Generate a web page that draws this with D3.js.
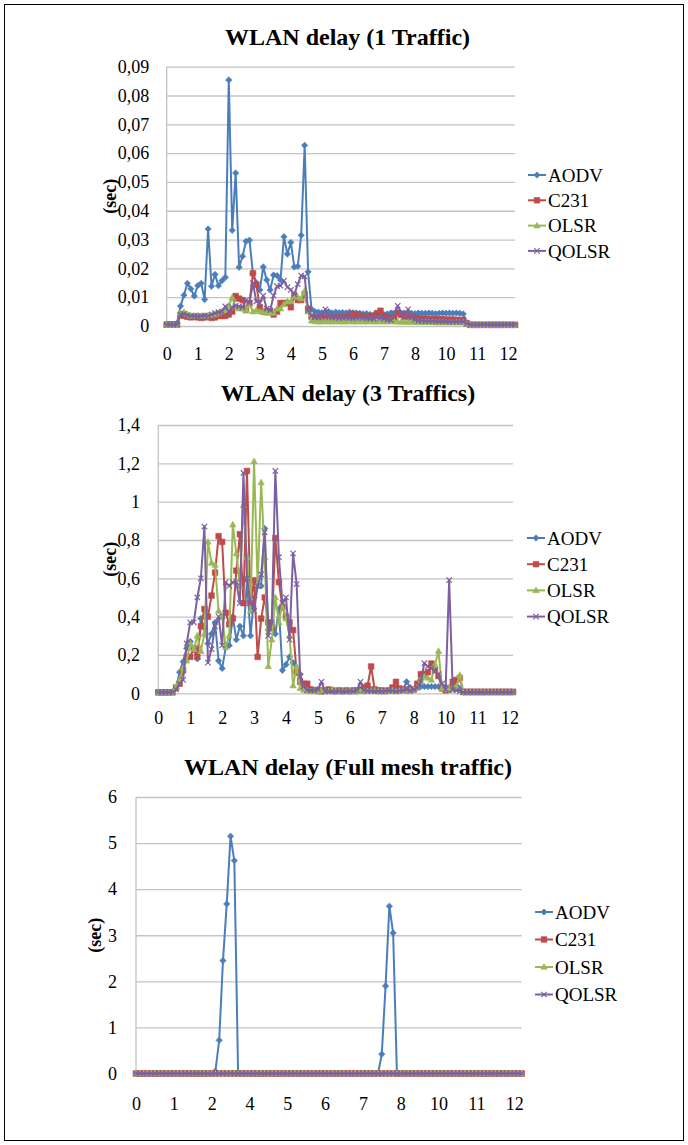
<!DOCTYPE html>
<html><head><meta charset="utf-8">
<script src="https://cdn.jsdelivr.net/npm/d3@7"></script>
<style>body{margin:0;background:#fff} svg{display:block}</style>
</head><body>
<svg id="c" width="688" height="1145"></svg>
<script>
const seriesNames = ["AODV","C231","OLSR","QOLSR"];

const xTickLabels1 = ["0","1","2","3","4","5","6","7","8","10","11","12"];
const xTickLabels2 = ["0","1","2","3","4","5","6","7","8","10","11","12"];
const xTickLabels3 = ["0","1","2","4","5","6","7","8","10","11","12"];

const yTicks1 = [0,0.01,0.02,0.03,0.04,0.05,0.06,0.07,0.08,0.09];
const yLabels1 = ["0","0,01","0,02","0,03","0,04","0,05","0,06","0,07","0,08","0,09"];
const yTicks2 = [0,0.2,0.4,0.6,0.8,1,1.2,1.4];
const yLabels2 = ["0","0,2","0,4","0,6","0,8","1","1,2","1,4"];
const yTicks3 = [0,1,2,3,4,5,6];
const yLabels3 = ["0","1","2","3","4","5","6"];

// ---- WLAN delay (1 Traffic) ----
const aodv1 = [0.0005,0.0005,0.0005,0.001,0.0069,0.0107,0.0148,0.0129,0.0104,0.014,
0.0148,0.0092,0.0337,0.0138,0.0179,0.014,0.0157,0.0169,0.0854,0.0332,
0.0531,0.0204,0.0242,0.0294,0.0298,0.0183,0.015,0.0125,0.0205,0.016,
0.0125,0.0177,0.0175,0.016,0.031,0.025,0.029,0.0205,0.0207,0.0315,
0.0627,0.0188,0.0058,0.005,0.0048,0.0046,0.0048,0.005,0.0045,0.0048,
0.0046,0.0047,0.0045,0.0048,0.0046,0.0045,0.0044,0.0042,0.0043,0.004,
0.0038,0.0037,0.0038,0.004,0.0042,0.0045,0.0044,0.0046,0.0045,0.0044,
0.0045,0.0044,0.0043,0.0045,0.0044,0.0044,0.0045,0.0044,0.0043,0.0044,
0.0045,0.0044,0.0045,0.0044,0.0045,0.0044,0.0042,0.001,0.0004,0.0004,
0.0004,0.0004,0.0004,0.0004,0.0004,0.0004,0.0004,0.0004,0.0004,0.0004,
0.0004,0.0004];
const c2311 = [0.0005,0.0005,0.0005,0.0005,0.0038,0.0035,0.0032,0.003,0.0032,0.003,
0.0028,0.003,0.0032,0.0028,0.003,0.0035,0.0035,0.0035,0.004,0.005,
0.0104,0.0095,0.009,0.0055,0.008,0.0183,0.0143,0.0065,0.005,0.005,
0.005,0.004,0.005,0.008,0.008,0.008,0.0065,0.0105,0.009,0.009,
0.011,0.006,0.0032,0.003,0.0028,0.003,0.0028,0.003,0.0029,0.003,
0.0028,0.003,0.003,0.0035,0.0042,0.004,0.0035,0.0032,0.003,0.0032,
0.0035,0.0045,0.0053,0.0035,0.0028,0.0026,0.003,0.0045,0.0038,0.0032,
0.0035,0.003,0.0028,0.0026,0.0025,0.0025,0.0024,0.0024,0.0024,0.0023,
0.0023,0.0022,0.0022,0.0022,0.0021,0.0021,0.002,0.001,0.0004,0.0004,
0.0004,0.0004,0.0004,0.0004,0.0004,0.0004,0.0004,0.0004,0.0004,0.0004,
0.0004,0.0004];
const olsr1 = [0.0003,0.0003,0.0003,0.0003,0.0045,0.0048,0.004,0.0035,0.0035,0.0036,
0.0034,0.0035,0.0036,0.0038,0.004,0.0045,0.005,0.0055,0.007,0.0098,
0.0065,0.006,0.006,0.0055,0.0075,0.005,0.0055,0.005,0.005,0.0045,
0.0045,0.0045,0.006,0.006,0.0075,0.0085,0.0085,0.0105,0.01,0.0095,
0.0122,0.005,0.0018,0.0016,0.0015,0.0015,0.0016,0.0015,0.0015,0.0016,
0.0015,0.0015,0.0015,0.0016,0.0015,0.0015,0.0016,0.0015,0.0015,0.0016,
0.0015,0.0015,0.0016,0.0015,0.0015,0.0016,0.0015,0.0015,0.0014,0.0014,
0.0014,0.0014,0.0013,0.0013,0.0013,0.0013,0.0013,0.0013,0.0012,0.0012,
0.0012,0.0012,0.0012,0.0012,0.0012,0.0012,0.0012,0.0006,0.0003,0.0003,
0.0003,0.0003,0.0003,0.0003,0.0003,0.0003,0.0003,0.0003,0.0003,0.0003,
0.0003,0.0003];
const qolsr1 = [0.0005,0.0005,0.0005,0.0005,0.004,0.0042,0.0038,0.0035,0.0035,0.0034,
0.0035,0.0036,0.0035,0.004,0.0045,0.0048,0.005,0.0068,0.005,0.0065,
0.007,0.0068,0.0065,0.009,0.008,0.0148,0.0085,0.008,0.0105,0.006,
0.0055,0.0105,0.0138,0.014,0.0157,0.0135,0.0125,0.011,0.0145,0.0175,
0.0172,0.0055,0.0035,0.003,0.003,0.0035,0.0058,0.0035,0.003,0.003,
0.0028,0.0029,0.003,0.0028,0.0027,0.0028,0.003,0.0028,0.0027,0.0026,
0.0025,0.003,0.0028,0.0025,0.0022,0.002,0.0045,0.007,0.0045,0.003,
0.0058,0.003,0.0022,0.0018,0.0018,0.0017,0.0017,0.0017,0.0016,0.0016,
0.0016,0.0015,0.0015,0.0015,0.0015,0.0015,0.0015,0.0008,0.0005,0.0005,
0.0005,0.0005,0.0005,0.0005,0.0005,0.0005,0.0005,0.0005,0.0005,0.0005,
0.0005,0.0005];

// ---- WLAN delay (3 Traffics) ----
const aodv2 = [0.005,0.005,0.005,0.005,0.008,0.026,0.11,0.165,0.235,0.27,
0.23,0.18,0.39,0.34,0.26,0.31,0.37,0.17,0.13,0.24,
0.25,0.4,0.28,0.35,0.3,0.59,0.3,0.5,0.56,0.56,
0.86,0.33,0.37,0.31,0.44,0.12,0.15,0.19,0.16,0.11,
0.1,0.035,0.02,0.018,0.015,0.02,0.015,0.012,0.015,0.012,
0.01,0.012,0.01,0.012,0.01,0.012,0.01,0.015,0.012,0.015,
0.02,0.015,0.012,0.01,0.012,0.015,0.02,0.03,0.015,0.02,
0.06,0.03,0.02,0.03,0.035,0.035,0.035,0.035,0.035,0.035,
0.035,0.035,0.03,0.035,0.04,0.025,0.005,0.005,0.005,0.005,
0.005,0.005,0.005,0.005,0.005,0.005,0.005,0.005,0.005,0.005,
0.005];
const c2312 = [0.005,0.005,0.005,0.005,0.005,0.03,0.05,0.12,0.19,0.19,
0.235,0.19,0.35,0.44,0.4,0.51,0.63,0.82,0.79,0.42,
0.36,0.39,0.64,0.83,0.47,1.16,0.47,0.59,0.19,0.39,
0.5,0.37,0.34,0.81,0.58,0.45,0.4,0.37,0.33,0.11,
0.06,0.05,0.05,0.02,0.015,0.012,0.01,0.015,0.02,0.015,
0.012,0.015,0.012,0.015,0.012,0.015,0.015,0.02,0.03,0.04,
0.14,0.02,0.015,0.015,0.012,0.015,0.03,0.06,0.025,0.02,
0.02,0.015,0.02,0.05,0.1,0.1,0.11,0.155,0.12,0.09,
0.025,0.015,0.02,0.06,0.07,0.08,0.008,0.008,0.008,0.008,
0.008,0.008,0.008,0.008,0.008,0.008,0.008,0.008,0.008,0.008,
0.008];
const olsr2 = [0.003,0.003,0.003,0.003,0.003,0.035,0.07,0.13,0.17,0.26,
0.23,0.3,0.22,0.31,0.79,0.68,0.67,0.43,0.4,0.24,
0.3,0.88,0.73,0.56,0.98,0.71,0.43,1.21,0.57,1.1,
0.71,0.14,0.28,0.5,0.37,0.47,0.39,0.3,0.04,0.14,
0.026,0.017,0.012,0.01,0.012,0.01,0.015,0.012,0.01,0.02,
0.012,0.01,0.012,0.01,0.012,0.01,0.012,0.01,0.012,0.01,
0.012,0.015,0.01,0.012,0.01,0.012,0.015,0.01,0.012,0.015,
0.012,0.015,0.02,0.03,0.07,0.087,0.08,0.07,0.15,0.22,
0.026,0.02,0.026,0.03,0.035,0.095,0.005,0.005,0.005,0.005,
0.005,0.005,0.005,0.005,0.005,0.005,0.005,0.005,0.005,0.005,
0.005];
const qolsr2 = [0.005,0.005,0.005,0.005,0.005,0.02,0.05,0.07,0.26,0.37,
0.37,0.5,0.6,0.87,0.16,0.23,0.35,0.4,0.25,0.58,
0.56,0.58,0.58,0.47,1.15,0.6,0.47,0.43,0.56,0.62,
0.84,0.3,0.37,1.16,0.71,0.47,0.5,0.28,0.73,0.57,
0.087,0.035,0.017,0.015,0.015,0.02,0.06,0.01,0.01,0.01,
0.01,0.012,0.01,0.01,0.012,0.01,0.015,0.06,0.015,0.012,
0.012,0.01,0.012,0.01,0.012,0.015,0.012,0.01,0.012,0.015,
0.02,0.015,0.02,0.03,0.06,0.157,0.14,0.13,0.12,0.1,
0.05,0.02,0.59,0.017,0.015,0.01,0.005,0.005,0.005,0.005,
0.005,0.005,0.005,0.005,0.005,0.005,0.005,0.005,0.005,0.005,
0.005];

// ---- WLAN delay (Full mesh traffic) ----
const aodv3 = [0,0,0,0,0,0,0,0,0,0,
0,0,0,0,0,0,0,0,0,0,
0,0.05,0.72,2.45,3.68,5.15,4.62,0,0,0,
0,0,0,0,0,0,0,0,0,0,
0,0,0,0,0,0,0,0,0,0,
0,0,0,0,0,0,0,0,0,0,
0,0,0,0,0,0.42,1.9,3.63,3.05,0,
0,0,0,0,0,0,0,0,0,0,
0,0,0,0,0,0,0,0,0,0,
0,0,0,0,0,0,0,0,0,0,
0,0,0];
const c2313 = [0,0,0,0,0,0,0,0,0,0,
0,0,0,0,0,0,0,0,0,0,
0,0,0,0,0,0,0,0,0,0,
0,0,0,0,0,0,0,0,0,0,
0,0,0,0,0,0,0,0,0,0,
0,0,0,0,0,0,0,0,0,0,
0,0,0,0,0,0,0,0,0,0,
0,0,0,0,0,0,0,0,0,0,
0,0,0,0,0,0,0,0,0,0,
0,0,0,0,0,0,0,0,0,0,
0,0,0];
const olsr3 = [0,0,0,0,0,0,0,0,0,0,
0,0,0,0,0,0,0,0,0,0,
0,0,0,0,0,0,0,0,0,0,
0,0,0,0,0,0,0,0,0,0,
0,0,0,0,0,0,0,0,0,0,
0,0,0,0,0,0,0,0,0,0,
0,0,0,0,0,0,0,0,0,0,
0,0,0,0,0,0,0,0,0,0,
0,0,0,0,0,0,0,0,0,0,
0,0,0,0,0,0,0,0,0,0,
0,0,0];
const qolsr3 = [0,0,0,0,0,0,0,0,0,0,
0,0,0,0,0,0,0,0,0,0,
0,0,0,0,0,0,0,0,0,0,
0,0,0,0,0,0,0,0,0,0,
0,0,0,0,0,0,0,0,0,0,
0,0,0,0,0,0,0,0,0,0,
0,0,0,0,0,0,0,0,0,0,
0,0,0,0,0,0,0,0,0,0,
0,0,0,0,0,0,0,0,0,0,
0,0,0,0,0,0,0,0,0,0,
0,0,0];

const colors = ["#4a7ebb","#be4b48","#98b954","#7d60a0"];
const markers = ["diamond","square","triangle","cross"];
const markerPath = {
  diamond: "M0,-3.2L3.2,0L0,3.2L-3.2,0Z",
  square: "M-2.8,-2.8H2.8V2.8H-2.8Z",
  triangle: "M0,-3.4L3.2,2.3H-3.2Z",
  cross: "M-2.7,-2.7L2.7,2.7M2.7,-2.7L-2.7,2.7"
};
const serif = "'Liberation Serif','Times New Roman',serif";

const svg = d3.select("#c");
svg.append("rect").attr("x",4.5).attr("y",4.5).attr("width",679).attr("height",1136)
  .attr("fill","none").attr("stroke","#000").attr("stroke-width",1);

function drawMarker(sel, type, color) {
  if (type === "cross") {
    sel.attr("d", markerPath.cross).attr("fill","none").attr("stroke",color).attr("stroke-width",1.2);
  } else {
    sel.attr("d", markerPath[type]).attr("fill",color).attr("stroke",color).attr("stroke-width",0.6);
  }
}

function drawChart(cfg) {
  const g = svg.append("g");
  const n = cfg.series[0].length;
  const x = d3.scaleLinear().domain([0, n - 1]).range([cfg.left, cfg.right]);
  const y = d3.scaleLinear().domain([0, cfg.yMax]).range([cfg.bottom, cfg.top]);

  const ya = g.append("g").attr("transform", `translate(${cfg.left},0)`)
    .call(d3.axisLeft(y).tickValues(cfg.yTicks).tickFormat((d, i) => cfg.yLabels[i])
      .tickSize(-(cfg.gridRight - cfg.left)).tickPadding(cfg.yPad));
  ya.select(".domain").remove();
  ya.selectAll(".tick line").attr("stroke", "#c3c3c3").attr("stroke-width", 1.3);
  ya.selectAll(".tick text").attr("font-family", serif).attr("font-size", 18).attr("fill", "#000");
  g.append("line").attr("x1", cfg.left).attr("x2", cfg.left).attr("y1", cfg.top).attr("y2", cfg.bottom)
    .attr("stroke", "#c3c3c3").attr("stroke-width", 1.3);

  const xa = g.append("g").attr("transform", `translate(0,${cfg.bottom})`)
    .call(d3.axisBottom(x).tickValues(cfg.xTickIdx).tickFormat((d, i) => cfg.xLabels[i])
      .tickSize(0).tickPadding(cfg.xPad));
  xa.select(".domain").remove();
  xa.selectAll(".tick text").attr("font-family", serif).attr("font-size", 18).attr("fill", "#000");

  g.append("text").attr("x", cfg.titleX).attr("y", cfg.titleY).attr("text-anchor", "middle")
    .attr("font-family", serif).attr("font-weight", "bold").attr("font-size", 24).text(cfg.title);
  g.append("text").attr("transform", `translate(${cfg.secX},${(cfg.top + cfg.bottom) / 2}) rotate(-90)`)
    .attr("text-anchor", "middle").attr("dy", "0.35em")
    .attr("font-family", serif).attr("font-weight", "bold").attr("font-size", 18).text("(sec)");

  const line = d3.line().x((d, i) => x(i)).y(d => y(d));
  cfg.series.forEach((s, k) => {
    g.append("path").datum(s).attr("d", line).attr("fill", "none")
      .attr("stroke", colors[k]).attr("stroke-width", 2).attr("stroke-linejoin", "round");
    g.append("g").selectAll("path").data(s).join("path")
      .attr("transform", (d, i) => `translate(${x(i)},${y(d)})`)
      .call(sel => drawMarker(sel, markers[k], colors[k]));
  });

  seriesNames.forEach((name, k) => {
    const ly = cfg.legY + k * cfg.legStep;
    g.append("line").attr("x1", cfg.legX).attr("x2", cfg.legX + 18).attr("y1", ly).attr("y2", ly)
      .attr("stroke", colors[k]).attr("stroke-width", 2);
    g.append("path").attr("transform", `translate(${cfg.legX + 9},${ly})`)
      .call(sel => drawMarker(sel, markers[k], colors[k]));
    g.append("text").attr("x", cfg.legX + 20).attr("y", ly).attr("dy", "0.35em")
      .attr("font-family", serif).attr("font-size", 19).attr("fill", "#000").text(name);
  });
}

const idx9 = [0,9,18,27,36,45,54,63,72,81,90,99];
const idx10 = [0,10,20,30,40,50,60,70,80,90,100];

drawChart({
  title: "WLAN delay (1 Traffic)", titleX: 347.5, titleY: 45,
  left: 166.7, right: 515, gridRight: 515, top: 66.7, bottom: 326,
  yMax: 0.09, yTicks: yTicks1, yLabels: yLabels1, yPad: 17.5,
  xTickIdx: idx9, xLabels: xTickLabels1, xPad: 21,
  secX: 110, legX: 528, legY: 175, legStep: 25.3,
  series: [aodv1, c2311, olsr1, qolsr1]
});
drawChart({
  title: "WLAN delay (3 Traffics)", titleX: 348, titleY: 401,
  left: 158.3, right: 513, gridRight: 513, top: 425, bottom: 693.3,
  yMax: 1.4, yTicks: yTicks2, yLabels: yLabels2, yPad: 18.3,
  xTickIdx: idx9, xLabels: xTickLabels2, xPad: 18,
  secX: 110, legX: 527, legY: 538, legStep: 26.2,
  series: [aodv2, c2312, olsr2, qolsr2]
});
drawChart({
  title: "WLAN delay (Full mesh traffic)", titleX: 348, titleY: 775,
  left: 136, right: 521.7, gridRight: 521.7, top: 797, bottom: 1073.5,
  yMax: 6, yTicks: yTicks3, yLabels: yLabels3, yPad: 19,
  xTickIdx: idx10, xLabels: xTickLabels3, xPad: 24,
  secX: 95, legX: 535, legY: 912, legStep: 27.5,
  series: [aodv3, c2313, olsr3, qolsr3]
});
</script>
</body></html>
